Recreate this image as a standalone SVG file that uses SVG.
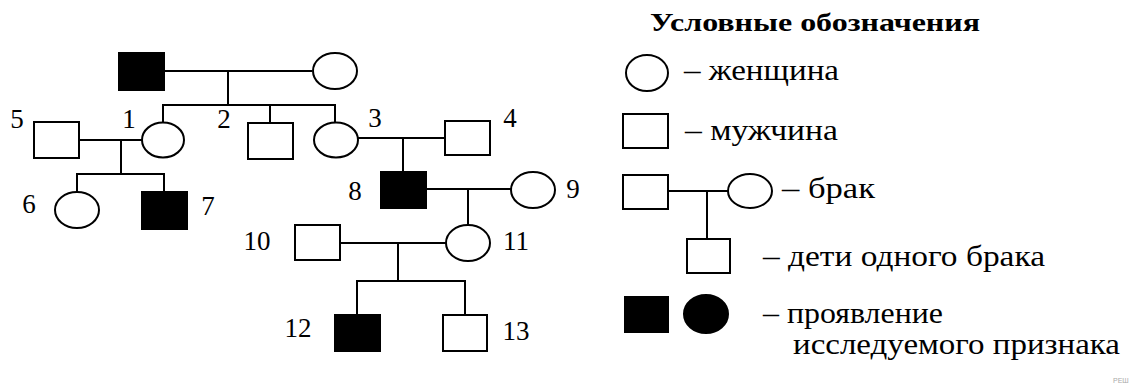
<svg xmlns="http://www.w3.org/2000/svg" width="1139" height="385" viewBox="0 0 1139 385">
<style>
.o{fill:#fff;stroke:#000;stroke-width:2}
.f{fill:#000;stroke:#000;stroke-width:2}
.c line,.c polyline{stroke:#000;stroke-width:2;fill:none}
.n{font-family:"Liberation Serif","Times New Roman",serif;font-size:27px;fill:#000;text-anchor:middle}
.t{font-family:"Liberation Serif","Times New Roman",serif;font-size:29px;fill:#000}
.h{font-family:"Liberation Serif","Times New Roman",serif;font-size:26px;font-weight:bold;fill:#000}
.w{font-family:"Liberation Sans",Arial,sans-serif;font-size:7px;fill:#aaa}
</style>
<rect width="1139" height="385" fill="#fff"/>
<g class="c" id="connectors">
<line x1="164" y1="71" x2="312" y2="71"/>
<line x1="228" y1="71" x2="228" y2="105"/>
<polyline points="163,123 163,105 335,105 335,123"/>
<line x1="270" y1="105" x2="270" y2="123"/>
<line x1="79" y1="140" x2="142" y2="140"/>
<line x1="121" y1="140" x2="121" y2="174"/>
<polyline points="77,192 77,174 164,174 164,192"/>
<line x1="358" y1="138" x2="445" y2="138"/>
<line x1="403" y1="138" x2="403" y2="172"/>
<line x1="426" y1="189" x2="511" y2="189"/>
<line x1="468" y1="189" x2="468" y2="225"/>
<line x1="340" y1="243" x2="446" y2="243"/>
<line x1="398" y1="243" x2="398" y2="281"/>
<polyline points="357,315 357,281 465,281 465,315"/>
<line x1="668" y1="191" x2="728" y2="191"/>
<line x1="707" y1="191" x2="707" y2="239"/>
</g>
<g id="p-gf"><rect class="f" x="119" y="53" width="45" height="37"/></g>
<g id="p-gm"><ellipse class="o" cx="335" cy="71" rx="22" ry="18"/></g>
<g id="p1"><ellipse class="o" cx="163" cy="140" rx="21" ry="17.5"/><text class="n" x="129" y="128">1</text></g>
<g id="p2"><rect class="o" x="248" y="123" width="45" height="36"/><text class="n" x="224" y="128">2</text></g>
<g id="p3"><ellipse class="o" cx="336" cy="140" rx="22" ry="17.5"/><text class="n" x="375" y="127">3</text></g>
<g id="p4"><rect class="o" x="445" y="121" width="45" height="34"/><text class="n" x="510" y="127">4</text></g>
<g id="p5"><rect class="o" x="34" y="122" width="45" height="36"/><text class="n" x="17" y="128">5</text></g>
<g id="p6"><ellipse class="o" cx="77" cy="210" rx="22" ry="18"/><text class="n" x="29" y="213">6</text></g>
<g id="p7"><rect class="f" x="142" y="192" width="45" height="37"/><text class="n" x="208" y="215">7</text></g>
<g id="p8"><rect class="f" x="381" y="172" width="45" height="36"/><text class="n" x="355" y="200">8</text></g>
<g id="p9"><ellipse class="o" cx="533" cy="190" rx="22" ry="18"/><text class="n" x="573" y="198">9</text></g>
<g id="p10"><rect class="o" x="295" y="225" width="45" height="35"/><text class="n" x="257" y="250">10</text></g>
<g id="p11"><ellipse class="o" cx="468" cy="243" rx="22" ry="18"/><text class="n" x="516" y="250">11</text></g>
<g id="p12"><rect class="f" x="335" y="315" width="45" height="36"/><text class="n" x="298" y="337">12</text></g>
<g id="p13"><rect class="o" x="443" y="315" width="44" height="36"/><text class="n" x="516" y="340">13</text></g>
<g id="legend">
<text class="h" x="650" y="31" textLength="330" lengthAdjust="spacingAndGlyphs">Условные обозначения</text>
<ellipse class="o" cx="647" cy="73" rx="21" ry="18"/>
<text class="t" x="684" y="80" textLength="155" lengthAdjust="spacingAndGlyphs">– женщина</text>
<rect class="o" x="623" y="114" width="45" height="34"/>
<text class="t" x="685" y="140" textLength="153" lengthAdjust="spacingAndGlyphs">– мужчина</text>
<rect class="o" x="623" y="175" width="45" height="34"/>
<ellipse class="o" cx="750" cy="191" rx="22" ry="17"/>
<text class="t" x="782" y="198" textLength="93" lengthAdjust="spacingAndGlyphs">– брак</text>
<rect class="o" x="687" y="239" width="43" height="34"/>
<text class="t" x="763" y="266" textLength="282" lengthAdjust="spacingAndGlyphs">– дети одного брака</text>
<rect class="f" x="625" y="297" width="43" height="35"/>
<ellipse class="f" cx="706" cy="314" rx="22" ry="19"/>
<text class="t" x="763" y="323" textLength="180" lengthAdjust="spacingAndGlyphs">– проявление</text>
<text class="t" x="793" y="354" textLength="327" lengthAdjust="spacingAndGlyphs">исследуемого признака</text>
</g>
<text class="w" x="1113" y="383">РЕШ</text>
</svg>
